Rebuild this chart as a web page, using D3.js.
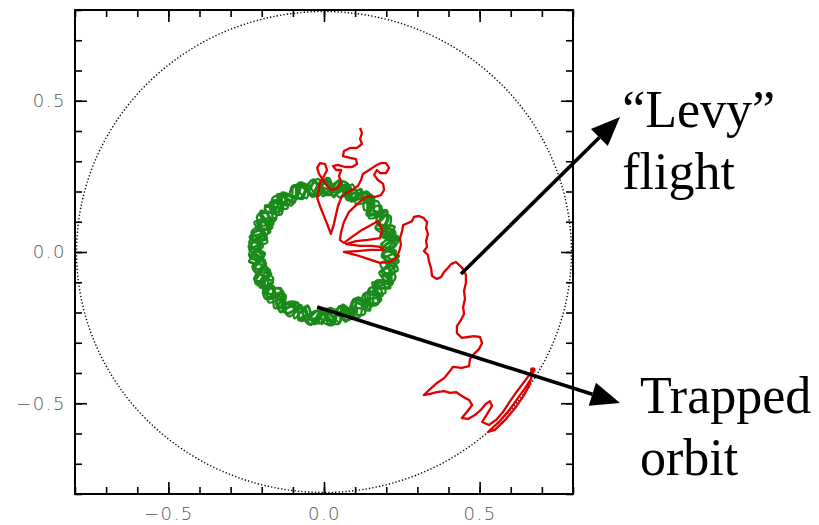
<!DOCTYPE html>
<html>
<head>
<meta charset="utf-8">
<script src="https://cdn.jsdelivr.net/npm/d3@7"></script>
<style>
  html, body { margin: 0; padding: 0; background: #fff; }
  svg { display: block; }
</style>
</head>
<body>
<svg id="chart" width="819" height="525"></svg>
<script>
// Axis ticks and labels
const minorTicks = [-0.8, -0.7, -0.6, -0.5, -0.4, -0.3, -0.2, -0.1, 0.0, 0.1, 0.2, 0.3, 0.4, 0.5, 0.6, 0.7, 0.8];
const majorTicks = [-0.5, 0.0, 0.5];
const majorLabels = ["\u22120.5", "0.0", "0.5"];

// Boundary radius of the confinement region
const wallRadius = [0.795];

// Trapped orbit: radius sampled at successive angle steps (degrees per step below)
const trappedStepDeg = [6.7];
const trappedR = [
  0.186, 0.231, 0.204, 0.242, 0.195, 0.222, 0.238, 0.190, 0.214, 0.240, 0.199, 0.228, 0.184, 0.236, 0.209, 0.193,
  0.241, 0.217, 0.188, 0.233, 0.202, 0.244, 0.211, 0.185, 0.226, 0.239, 0.197, 0.220, 0.243, 0.191, 0.207, 0.235,
  0.214, 0.183, 0.229, 0.240, 0.196, 0.218, 0.187, 0.237, 0.205, 0.231, 0.242, 0.189, 0.223, 0.199, 0.238, 0.210,
  0.190, 0.226, 0.244, 0.203, 0.185, 0.234, 0.215, 0.241, 0.193, 0.208, 0.236, 0.221, 0.184, 0.229, 0.243, 0.198,
  0.232, 0.206, 0.188, 0.239, 0.219, 0.192, 0.242, 0.201, 0.228, 0.186, 0.213, 0.240, 0.195, 0.235, 0.209, 0.224,
  0.243, 0.191, 0.216, 0.230, 0.184, 0.237, 0.206, 0.222, 0.244, 0.197, 0.189, 0.233, 0.212, 0.241, 0.200, 0.186,
  0.218, 0.239, 0.198, 0.185, 0.227, 0.243, 0.210, 0.192, 0.235, 0.220, 0.203, 0.242, 0.188, 0.225, 0.238, 0.207,
  0.195, 0.223, 0.241, 0.212, 0.189, 0.230, 0.196, 0.244, 0.217, 0.184, 0.232, 0.208, 0.240, 0.199, 0.186, 0.228,
  0.237, 0.204, 0.187, 0.225, 0.242, 0.201, 0.219, 0.238, 0.190, 0.211, 0.243, 0.226, 0.194, 0.185, 0.234, 0.215,
  0.201, 0.240, 0.221, 0.193, 0.206, 0.236, 0.186, 0.227, 0.243, 0.213, 0.189, 0.198, 0.239, 0.218, 0.204, 0.244,
  0.226, 0.188, 0.212, 0.243, 0.197, 0.183, 0.231, 0.214, 0.200, 0.241, 0.224, 0.187, 0.208, 0.236, 0.192, 0.220,
  0.240, 0.215, 0.194, 0.207, 0.238, 0.222, 0.190, 0.245, 0.203, 0.185, 0.229, 0.242, 0.211, 0.196, 0.233, 0.188,
  0.209, 0.234, 0.243, 0.189, 0.216, 0.200, 0.239, 0.184, 0.225, 0.236, 0.205, 0.193, 0.241, 0.219, 0.187, 0.230,
  0.192, 0.221, 0.185, 0.237, 0.244, 0.210, 0.197, 0.232, 0.188, 0.218, 0.240, 0.203, 0.227, 0.184, 0.238, 0.213,
  0.235, 0.198, 0.228, 0.206, 0.191, 0.242, 0.223, 0.186, 0.236, 0.201, 0.194, 0.239, 0.216, 0.244, 0.205, 0.190,
  0.217, 0.241, 0.189, 0.220, 0.234, 0.195, 0.185, 0.240, 0.212, 0.227, 0.243, 0.188, 0.200, 0.231, 0.222, 0.238,
  0.187, 0.213, 0.237, 0.199, 0.183, 0.226, 0.244, 0.207, 0.193, 0.239, 0.219, 0.234, 0.186, 0.210, 0.242, 0.202,
  0.229, 0.244, 0.206, 0.191, 0.238, 0.217, 0.188, 0.233, 0.241, 0.198, 0.211, 0.185, 0.225, 0.243, 0.196, 0.220,
  0.203, 0.236, 0.192, 0.219, 0.244, 0.209, 0.185, 0.230, 0.240, 0.197, 0.214, 0.238, 0.189, 0.226, 0.243, 0.201,
  0.221, 0.187, 0.240, 0.212, 0.195, 0.235, 0.242, 0.190, 0.207, 0.229, 0.184, 0.237, 0.216, 0.199, 0.244, 0.224,
  0.238, 0.210, 0.186, 0.227, 0.241, 0.194, 0.218, 0.236, 0.183, 0.213, 0.243, 0.205, 0.192, 0.231, 0.220, 0.189,
  0.196, 0.242, 0.223, 0.188, 0.209, 0.239, 0.200, 0.185, 0.233, 0.245, 0.216, 0.191, 0.228, 0.240, 0.206, 0.235,
  0.227, 0.199, 0.213, 0.244, 0.186, 0.221, 0.237, 0.208, 0.194, 0.241, 0.230, 0.187, 0.217, 0.203, 0.239, 0.192,
  0.185, 0.230, 0.243, 0.205, 0.226, 0.190, 0.212, 0.242, 0.219, 0.196, 0.235, 0.224, 0.184, 0.241, 0.210, 0.233,
  0.242, 0.218, 0.190, 0.234, 0.200, 0.245, 0.227, 0.186, 0.238, 0.208, 0.193, 0.232, 0.243, 0.199, 0.188, 0.225,
  0.211, 0.188, 0.235, 0.222, 0.241, 0.197, 0.184, 0.229, 0.214, 0.240, 0.203, 0.218, 0.236, 0.190, 0.231, 0.244,
  0.193, 0.240, 0.207, 0.186, 0.231, 0.216, 0.243, 0.201, 0.189, 0.225, 0.242, 0.196, 0.209, 0.238, 0.222, 0.185,
  0.234, 0.204, 0.228, 0.245, 0.192, 0.209, 0.236, 0.223, 0.241, 0.187, 0.215, 0.239, 0.200, 0.186, 0.229, 0.241,
  0.219, 0.243, 0.195, 0.211, 0.238, 0.185, 0.224, 0.244, 0.205, 0.230, 0.191, 0.213, 0.242, 0.226, 0.197, 0.208,
  0.188, 0.226, 0.241, 0.199, 0.217, 0.235, 0.193, 0.210, 0.239, 0.184, 0.228, 0.243, 0.206, 0.220, 0.237, 0.195
];

// "Levy" flight orbit, x and y positions
const levyX = [
  0.116, 0.122, 0.116, 0.122, 0.106, 0.084, 0.064, 0.061, 0.084, 0.103, 0.106, 0.090,
  0.067, 0.045, 0.029, 0.039, 0.055, 0.048, 0.055, 0.045, 0.026, 0.010, -0.003, -0.016,
  -0.022, -0.013, 0.003, 0.010, 0.000, -0.013, -0.016, -0.022, -0.013, -0.003, 0.010, 0.022,
  0.032, 0.039, 0.045, 0.055, 0.071, 0.090, 0.109, 0.119, 0.125, 0.145, 0.164, 0.183,
  0.199, 0.209, 0.199, 0.180, 0.170, 0.161, 0.173, 0.190, 0.193, 0.183, 0.164, 0.145,
  0.125, 0.103, 0.080, 0.064, 0.055, 0.051, 0.064, 0.090, 0.122, 0.151, 0.173, 0.186,
  0.180, 0.141, 0.103, 0.071, 0.116, 0.154, 0.180, 0.193, 0.151, 0.106, 0.064, 0.103,
  0.141, 0.180, 0.212, 0.231, 0.241, 0.247, 0.244, 0.251, 0.254, 0.270, 0.283, 0.289,
  0.305, 0.321, 0.331, 0.328, 0.334, 0.328, 0.331, 0.321, 0.334, 0.337, 0.344, 0.347,
  0.363, 0.376, 0.386, 0.398, 0.408, 0.424, 0.434, 0.447, 0.456, 0.456, 0.450, 0.453,
  0.447, 0.450, 0.440, 0.427, 0.427, 0.443, 0.463, 0.482, 0.501, 0.508, 0.498, 0.482,
  0.469, 0.466, 0.443, 0.414, 0.402, 0.386, 0.363, 0.341, 0.321, 0.341, 0.363, 0.386,
  0.405, 0.424, 0.447, 0.466, 0.476, 0.459, 0.443, 0.463, 0.485, 0.504, 0.520, 0.533,
  0.540, 0.524, 0.508, 0.530, 0.553, 0.575, 0.594, 0.614, 0.633, 0.652, 0.671, 0.665,
  0.646, 0.623, 0.598, 0.565, 0.527, 0.549, 0.582, 0.614, 0.639, 0.659, 0.671
];
const levyY = [
  0.410, 0.393, 0.374, 0.357, 0.344, 0.344, 0.334, 0.317, 0.311, 0.307, 0.291, 0.281,
  0.281, 0.288, 0.284, 0.271, 0.271, 0.251, 0.231, 0.212, 0.205, 0.218, 0.238, 0.258,
  0.278, 0.294, 0.291, 0.271, 0.251, 0.231, 0.205, 0.179, 0.152, 0.126, 0.093, 0.060,
  0.093, 0.126, 0.152, 0.179, 0.195, 0.205, 0.218, 0.238, 0.258, 0.271, 0.284, 0.294,
  0.294, 0.278, 0.261, 0.261, 0.271, 0.255, 0.238, 0.225, 0.205, 0.188, 0.182, 0.185,
  0.175, 0.155, 0.132, 0.099, 0.066, 0.040, 0.030, 0.050, 0.073, 0.089, 0.102, 0.076,
  0.046, 0.040, 0.036, 0.026, 0.020, 0.020, 0.017, 0.007, 0.007, 0.003, 0.000, -0.010,
  -0.023, -0.036, -0.033, -0.020, 0.000, 0.023, 0.046, 0.069, 0.089, 0.096, 0.102, 0.116,
  0.119, 0.112, 0.099, 0.079, 0.060, 0.036, 0.017, 0.003, -0.010, -0.030, -0.053, -0.079,
  -0.089, -0.083, -0.066, -0.053, -0.040, -0.033, -0.043, -0.056, -0.076, -0.102, -0.129, -0.155,
  -0.182, -0.205, -0.225, -0.245, -0.268, -0.284, -0.281, -0.278, -0.281, -0.301, -0.321, -0.337,
  -0.354, -0.377, -0.383, -0.380, -0.397, -0.417, -0.433, -0.453, -0.473, -0.469, -0.463, -0.460,
  -0.466, -0.463, -0.479, -0.489, -0.506, -0.529, -0.549, -0.552, -0.539, -0.522, -0.502, -0.493,
  -0.509, -0.536, -0.562, -0.572, -0.555, -0.529, -0.499, -0.469, -0.443, -0.417, -0.390, -0.420,
  -0.450, -0.483, -0.519, -0.559, -0.595, -0.588, -0.555, -0.516, -0.479, -0.443, -0.397
];

// Annotations: label lines, arrow start, arrow tip, text anchor (data units)
const annLevy = { lines: ["\u201CLevy\u201D", "flight"], from: [0.440, -0.073], to: [0.951, 0.446], text: [0.958, 0.413] };
const annTrap = { lines: ["Trapped", "orbit"], from: [-0.022, -0.182], to: [0.951, -0.499], text: [1.015, -0.532] };

const svg = d3.select("#chart");
svg.append("rect").attr("width", 819).attr("height", 525).attr("fill", "#fff");

const x = d3.scaleLinear().domain([-0.8, 0.8]).range([75, 573]);
const y = d3.scaleLinear().domain([-0.8, 0.8]).range([494, 10]);

// Confinement wall (dotted)
svg.append("ellipse")
  .attr("cx", x(0)).attr("cy", y(0))
  .attr("rx", x(wallRadius[0]) - x(0))
  .attr("ry", y(0) - y(wallRadius[0]))
  .attr("fill", "none")
  .attr("stroke", "#000")
  .attr("stroke-width", 1.4)
  .attr("stroke-dasharray", "1.3 2.1");

// Trapped orbit
const trappedPts = trappedR.map((r, k) => {
  const a = k * trappedStepDeg[0] * Math.PI / 180;
  return [r * Math.cos(a), r * Math.sin(a)];
});
svg.append("path")
  .datum(trappedPts)
  .attr("d", d3.line().x(d => x(d[0])).y(d => y(d[1])).curve(d3.curveCatmullRom.alpha(0.5)))
  .attr("fill", "none")
  .attr("stroke", "#1a8a1a")
  .attr("stroke-width", 2.3);

// Levy flight orbit
const levyPts = levyX.map((v, i) => [v, levyY[i]]);
svg.append("path")
  .datum(levyPts)
  .attr("d", d3.line().x(d => x(d[0])).y(d => y(d[1])))
  .attr("fill", "none")
  .attr("stroke", "#e00000")
  .attr("stroke-width", 2.3)
  .attr("stroke-linejoin", "round");
const tipIdx = d3.maxIndex(levyX);
svg.append("circle")
  .attr("cx", x(levyX[tipIdx])).attr("cy", y(levyY[tipIdx]))
  .attr("r", 2.8).attr("fill", "#e00000");

// Axes: inward ticks on all four sides
function tickAxis(axisFn, scale, vals, size, transform) {
  const g = svg.append("g").attr("transform", transform)
    .call(axisFn(scale).tickValues(vals).tickSize(-size).tickFormat(""));
  g.select(".domain").remove();
  g.selectAll(".tick line").attr("stroke", "#000").attr("stroke-width", 1.6);
  return g;
}
tickAxis(d3.axisBottom, x, minorTicks, 7, `translate(0,${y(-0.8)})`);
tickAxis(d3.axisTop, x, minorTicks, 7, `translate(0,${y(0.8)})`);
tickAxis(d3.axisLeft, y, minorTicks, 7, `translate(${x(-0.8)},0)`);
tickAxis(d3.axisRight, y, minorTicks, 7, `translate(${x(0.8)},0)`);
tickAxis(d3.axisBottom, x, majorTicks, 12, `translate(0,${y(-0.8)})`);
tickAxis(d3.axisTop, x, majorTicks, 12, `translate(0,${y(0.8)})`);
tickAxis(d3.axisLeft, y, majorTicks, 12, `translate(${x(-0.8)},0)`);
tickAxis(d3.axisRight, y, majorTicks, 12, `translate(${x(0.8)},0)`);

// Tick labels
function labelAxis(axisFn, scale, transform, pad) {
  const g = svg.append("g").attr("transform", transform)
    .call(axisFn(scale).tickValues(majorTicks).tickSize(0).tickPadding(pad)
      .tickFormat((d, i) => majorLabels[i]));
  g.select(".domain").remove();
  g.selectAll("text")
    .attr("font-family", "'DejaVu Sans', sans-serif")
    .attr("font-size", 18)
    .attr("font-weight", 200)
    .attr("letter-spacing", 1.5)
    .attr("fill", "#555");
}
labelAxis(d3.axisBottom, x, `translate(0,${y(-0.8)})`, 13);
labelAxis(d3.axisLeft, y, `translate(${x(-0.8)},0)`, 9);

// Frame
svg.append("rect")
  .attr("x", x(-0.8)).attr("y", y(0.8))
  .attr("width", x(0.8) - x(-0.8)).attr("height", y(-0.8) - y(0.8))
  .attr("fill", "none").attr("stroke", "#000").attr("stroke-width", 2);

// Annotation arrows and text
[annLevy, annTrap].forEach(a => {
  const x0 = x(a.from[0]), y0 = y(a.from[1]);
  const x1 = x(a.to[0]), y1 = y(a.to[1]);
  const ang = Math.atan2(y1 - y0, x1 - x0);
  const headLen = 29, headHalf = 12;
  const bx = x1 - headLen * Math.cos(ang), by = y1 - headLen * Math.sin(ang);
  svg.append("line")
    .attr("x1", x0).attr("y1", y0).attr("x2", bx).attr("y2", by)
    .attr("stroke", "#000").attr("stroke-width", 3.6);
  const px = -Math.sin(ang), py = Math.cos(ang);
  svg.append("polygon")
    .attr("points", [
      [x1, y1],
      [bx + headHalf * px, by + headHalf * py],
      [bx - headHalf * px, by - headHalf * py]
    ].map(p => p.join(",")).join(" "))
    .attr("fill", "#000");
  const t = svg.append("text")
    .attr("x", x(a.text[0])).attr("y", y(a.text[1]))
    .attr("font-family", "'Liberation Serif', 'Times New Roman', serif")
    .attr("font-size", 52)
    .attr("fill", "#000");
  a.lines.forEach((line, i) => {
    t.append("tspan").attr("x", x(a.text[0])).attr("dy", i === 0 ? 0 : 62).text(line);
  });
});
</script>
</body>
</html>
